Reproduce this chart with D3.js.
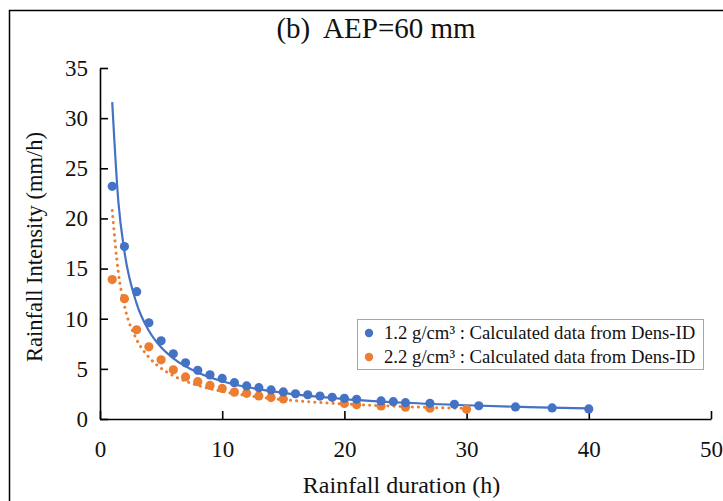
<!DOCTYPE html>
<html lang="en">
<head>
    <meta charset="UTF-8">
    <title>AEP=60 mm</title>
    <script src="https://d3js.org/d3.v7.min.js"></script>
    <style>
        body { margin: 0; background: #fff; }
        text { font-family: "Liberation Serif", "Times New Roman", serif; fill: #111; }
        .tick text { font-size: 23px; }
        .axis-label { font-size: 24px; }
    </style>
</head>
<body>
<div id="chart"></div>
<script>
    // Calculated data from Dens-ID
    const durA = [1, 2, 3, 4, 5, 6, 7, 8, 9, 10, 11, 12, 13, 14, 15, 16, 17, 18, 19, 20, 21, 23, 24, 25, 27, 29, 31, 34, 37, 40];
    const intA = [23.2, 17.2, 12.7, 9.6, 7.8, 6.5, 5.6, 4.85, 4.4, 4.05, 3.62, 3.3, 3.12, 2.9, 2.7, 2.52, 2.42, 2.29, 2.16, 2.06, 1.96, 1.8, 1.73, 1.63, 1.56, 1.46, 1.32, 1.2, 1.1, 1.0];
    const durB = [1, 2, 3, 4, 5, 6, 7, 8, 9, 10, 11, 12, 13, 14, 15, 20, 21, 23, 25, 27, 30];
    const intB = [13.9, 12.0, 8.9, 7.2, 5.9, 4.9, 4.2, 3.72, 3.35, 3.05, 2.68, 2.56, 2.3, 2.14, 2.0, 1.55, 1.42, 1.3, 1.18, 1.08, 0.98];

    // trend lines, sampled from the figure
    const trendXA = [1, 1.5, 2, 3, 4, 5, 6, 8, 10, 12, 15, 20, 25, 30, 35, 40];
    const trendYA = [31.6, 21.7, 16.7, 11.5, 8.8, 7.15, 6.05, 4.64, 3.77, 3.19, 2.6, 1.99, 1.62, 1.37, 1.19, 1.05];
    const trendXB = [1, 1.5, 2, 3, 4, 5, 6, 8, 10, 12, 15, 20, 25, 30];
    const trendYB = [20.8, 14.6, 11.3, 7.93, 6.16, 5.06, 4.32, 3.35, 2.75, 2.34, 1.93, 1.5, 1.23, 1.05];

    const xTicks = [0, 10, 20, 30, 40, 50];
    const yTicks = [0, 5, 10, 15, 20, 25, 30, 35];
    const legendLabels = ["1.2 g/cm³ : Calculated data from Dens-ID", "2.2 g/cm³ : Calculated data from Dens-ID"];

    const blue = "#4472C4", orange = "#ED7D31";

    const W = 723, H = 501;
    const margin = { top: 68, right: 12, bottom: 82, left: 100 },
          width = W - margin.left - margin.right,
          height = H - margin.top - margin.bottom;

    const root = d3.select("#chart").append("svg")
        .attr("width", W)
        .attr("height", H);

    // outer frame (right/bottom edges fall outside the picture)
    root.append("rect")
        .attr("x", 9.5).attr("y", 10.5)
        .attr("width", 740).attr("height", 520)
        .attr("fill", "none")
        .attr("stroke", "#000")
        .attr("stroke-width", 1.5);

    root.append("text")
        .attr("x", 376)
        .attr("y", 38)
        .attr("text-anchor", "middle")
        .style("font-size", "29px")
        .attr("xml:space", "preserve")
        .text("(b)  AEP=60 mm");

    const svg = root.append("g")
        .attr("transform", `translate(${margin.left},${margin.top})`);

    const x = d3.scaleLinear().domain([0, 50]).range([0, width]);
    const y = d3.scaleLinear().domain([0, 35]).range([height, 0]);

    // axes, ticks pointing inward
    const xAxis = svg.append("g")
        .attr("transform", `translate(0,${height})`)
        .call(d3.axisBottom(x).tickValues(xTicks).tickSize(-8).tickPadding(22).tickSizeOuter(0));
    const yAxis = svg.append("g")
        .call(d3.axisLeft(y).tickValues(yTicks).tickSize(-8).tickPadding(12).tickSizeOuter(0));
    [xAxis, yAxis].forEach(a => {
        a.select(".domain").attr("stroke", "#000").attr("stroke-width", 1.6);
        a.selectAll(".tick line").attr("stroke", "#000").attr("stroke-width", 1.6);
        a.selectAll(".tick text").attr("fill", "#111");
    });

    // trend lines
    const line = d3.line().x(d => x(d[0])).y(d => y(d[1])).curve(d3.curveMonotoneX);
    svg.append("path")
        .datum(d3.zip(trendXA, trendYA))
        .attr("d", line)
        .attr("fill", "none")
        .attr("stroke", blue)
        .attr("stroke-width", 2.2);
    svg.append("path")
        .datum(d3.zip(trendXB, trendYB))
        .attr("d", line)
        .attr("fill", "none")
        .attr("stroke", orange)
        .attr("stroke-width", 3)
        .attr("stroke-linecap", "round")
        .attr("stroke-dasharray", "0.1 6");

    // points
    svg.selectAll(".ptB")
        .data(d3.zip(durB, intB))
        .enter().append("circle")
        .attr("cx", d => x(d[0]))
        .attr("cy", d => y(d[1]))
        .attr("r", 4.6)
        .attr("fill", orange);
    svg.selectAll(".ptA")
        .data(d3.zip(durA, intA))
        .enter().append("circle")
        .attr("cx", d => x(d[0]))
        .attr("cy", d => y(d[1]))
        .attr("r", 4.6)
        .attr("fill", blue);

    // axis labels
    svg.append("text")
        .attr("class", "axis-label")
        .attr("x", width / 2 - 4)
        .attr("y", height + 74)
        .attr("text-anchor", "middle")
        .text("Rainfall duration (h)");
    svg.append("text")
        .attr("class", "axis-label")
        .attr("transform", "rotate(-90)")
        .attr("x", -179)
        .attr("y", -margin.left + 42)
        .attr("text-anchor", "middle")
        .style("font-size", "22.5px")
        .text("Rainfall Intensity (mm/h)");

    // legend
    const lg = root.append("g").attr("transform", "translate(357,319)");
    lg.append("rect")
        .attr("x", 0.5).attr("y", 0.5)
        .attr("width", 346).attr("height", 50)
        .attr("fill", "#fff")
        .attr("stroke", "#a6a6a6");
    legendLabels.forEach((t, i) => {
        lg.append("circle")
            .attr("cx", 12).attr("cy", 14 + i * 24)
            .attr("r", 4.2)
            .attr("fill", i === 0 ? blue : orange);
        lg.append("text")
            .attr("x", 27).attr("y", 20 + i * 24)
            .style("font-size", "18.7px")
            .text(t);
    });
</script>
</body>
</html>
